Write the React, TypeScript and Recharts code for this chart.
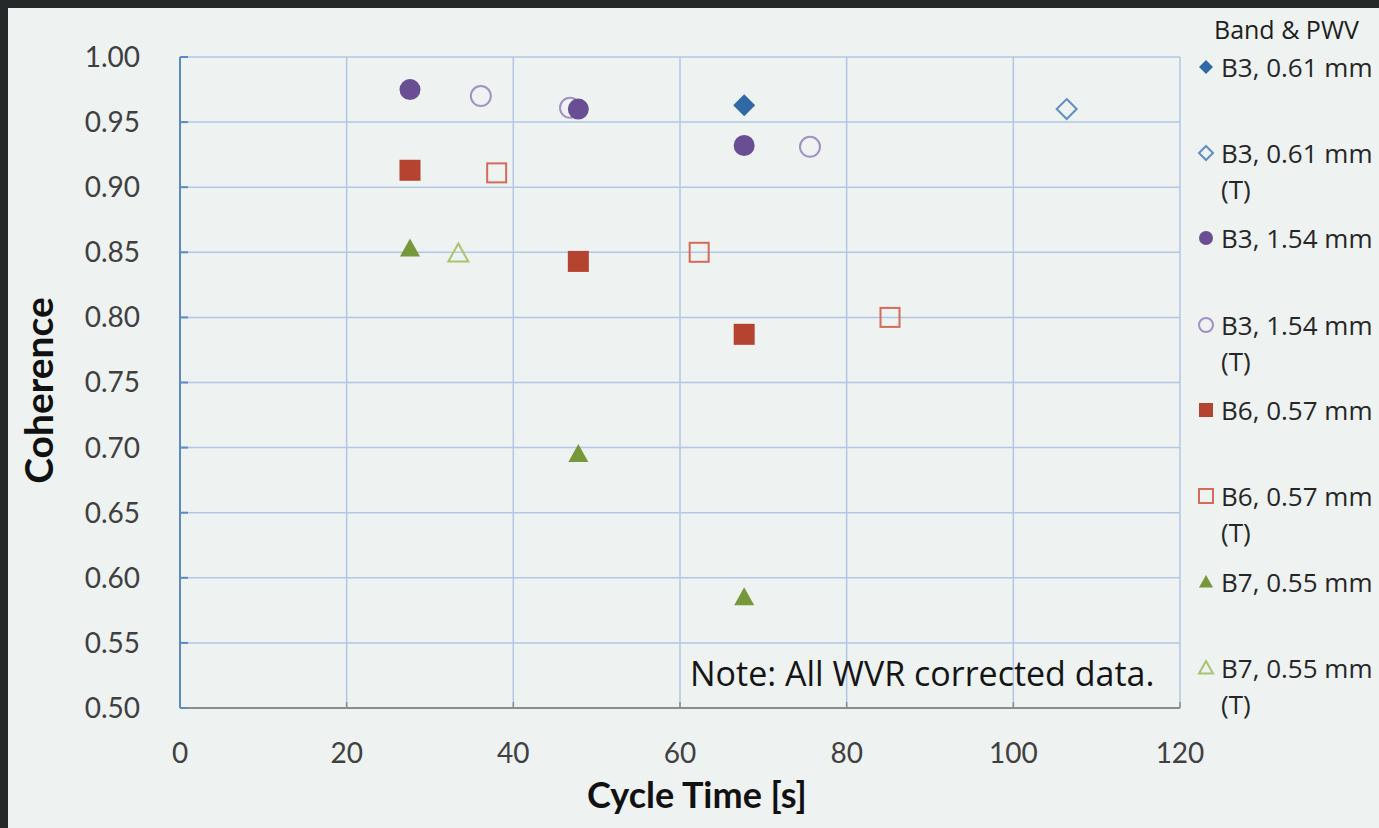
import React from "react";
import { ScatterChart, Scatter, XAxis, YAxis, CartesianGrid, Label } from "recharts";

const xTicks = [0, 20, 40, 60, 80, 100, 120];
const yTicks = [0.5, 0.55, 0.6, 0.65, 0.7, 0.75, 0.8, 0.85, 0.9, 0.95, 1.0];

// Band 3, PWV 0.61 mm
const b3LowTime = [67.7];
const b3LowCoh = [0.963];
const b3LowTTime = [106.4];
const b3LowTCoh = [0.96];
// Band 3, PWV 1.54 mm
const b3HighTime = [27.6, 47.8, 67.7];
const b3HighCoh = [0.975, 0.96, 0.932];
const b3HighTTime = [36.1, 46.8, 75.6];
const b3HighTCoh = [0.97, 0.961, 0.931];
// Band 6, PWV 0.57 mm
const b6Time = [27.6, 47.8, 67.7];
const b6Coh = [0.913, 0.843, 0.787];
const b6TTime = [38.0, 62.3, 85.2];
const b6TCoh = [0.911, 0.85, 0.8];
// Band 7, PWV 0.55 mm
const b7Time = [27.6, 47.8, 67.7];
const b7Coh = [0.853, 0.695, 0.585];
const b7TTime = [33.4];
const b7TCoh = [0.849];

type Kind = "diamond" | "circle" | "square" | "triangle";

interface Series {
  name: string;
  tracked: boolean;
  kind: Kind;
  color: string;
  filled: boolean;
  size: number;
  x: number[];
  y: number[];
}

const series: Series[] = [
  { name: "B3, 0.61 mm", tracked: false, kind: "diamond", color: "#2f6aa6", filled: true, size: 22, x: b3LowTime, y: b3LowCoh },
  { name: "B3, 0.61 mm", tracked: true, kind: "diamond", color: "#5f8fc2", filled: false, size: 22, x: b3LowTTime, y: b3LowTCoh },
  { name: "B3, 1.54 mm", tracked: false, kind: "circle", color: "#6a4e94", filled: true, size: 21, x: b3HighTime, y: b3HighCoh },
  { name: "B3, 1.54 mm", tracked: true, kind: "circle", color: "#a390c4", filled: false, size: 22, x: b3HighTTime, y: b3HighTCoh },
  { name: "B6, 0.57 mm", tracked: false, kind: "square", color: "#b4432f", filled: true, size: 21, x: b6Time, y: b6Coh },
  { name: "B6, 0.57 mm", tracked: true, kind: "square", color: "#d66a58", filled: false, size: 21, x: b6TTime, y: b6TCoh },
  { name: "B7, 0.55 mm", tracked: false, kind: "triangle", color: "#76983a", filled: true, size: 20, x: b7Time, y: b7Coh },
  { name: "B7, 0.55 mm", tracked: true, kind: "triangle", color: "#a8c46e", filled: false, size: 22, x: b7TTime, y: b7TCoh },
];

const FONT = "Lato, 'Open Sans', sans-serif";
const WIDE_FONT = "'Open Sans', Lato, sans-serif";

function Marker({ cx, cy, kind, color, filled, size }: { cx: number; cy: number; kind: Kind; color: string; filled: boolean; size: number }) {
  const sw = filled ? 0 : 2;
  const h = size / 2 - sw / 2;
  const paint = { fill: filled ? color : "none", stroke: filled ? "none" : color, strokeWidth: sw };
  if (kind === "circle") return <circle cx={cx} cy={cy} r={h} {...paint} />;
  if (kind === "square") return <rect x={cx - h} y={cy - h} width={h * 2} height={h * 2} {...paint} />;
  if (kind === "diamond")
    return <polygon points={`${cx},${cy - h} ${cx + h},${cy} ${cx},${cy + h} ${cx - h},${cy}`} {...paint} />;
  return <polygon points={`${cx},${cy - h} ${cx + h},${cy + h * 0.8} ${cx - h},${cy + h * 0.8}`} {...paint} />;
}

// draw hollow (T) series underneath the filled ones
const drawOrder = [...series.filter((s) => !s.filled), ...series.filter((s) => s.filled)];

function LegendBox() {
  const rowTops = [49, 135, 220, 307, 392, 478, 564, 650];
  return (
    <div style={{ position: "absolute", left: 1196, top: 0, fontFamily: WIDE_FONT, color: "#262626" }}>
      <div style={{ position: "absolute", left: 18, top: 12, fontSize: 25, whiteSpace: "nowrap", color: "#1e1e1e" }}>
        Band &amp; PWV
      </div>
      {series.map((s, i) => (
        <div key={i} style={{ position: "absolute", left: 0, top: rowTops[i], whiteSpace: "nowrap" }}>
          <svg width={20} height={36} style={{ position: "absolute", left: 0, top: 0 }}>
            <Marker cx={10} cy={18} kind={s.kind} color={s.color} filled={s.filled} size={s.filled ? 14 : 16} />
          </svg>
          <div style={{ position: "absolute", left: 25, top: 0, fontSize: 26, lineHeight: "36px" }}>
            {s.name}
            {s.tracked && <br />}
            {s.tracked && "(T)"}
          </div>
        </div>
      ))}
    </div>
  );
}

export default function App() {
  return (
    <div style={{ position: "absolute", left: 0, top: 0, width: 1379, height: 828, background: "#26292a", overflow: "hidden" }}>
      <div style={{ position: "absolute", left: 8, top: 8, width: 1371, height: 820, background: "#eef2f1" }} />
      <div style={{ position: "absolute", left: 0, top: 0 }}>
        <ScatterChart width={1379} height={828} margin={{ top: 57, right: 199, bottom: 60, left: 80 }}>
          <CartesianGrid stroke="#b1c7e4" strokeWidth={1.5} />
          <XAxis
            type="number"
            dataKey="x"
            domain={[0, 120]}
            ticks={xTicks}
            height={60}
            tickSize={-6}
            tickMargin={41}
            axisLine={{ stroke: "#8c8c8c", strokeWidth: 2 }}
            tickLine={{ stroke: "#8c8c8c", strokeWidth: 1.5 }}
            tick={{ fill: "#404040", fontSize: 28, fontFamily: FONT }}
          >
            <Label
              content={({ viewBox }: any) => (
                <text
                  x={viewBox.x + viewBox.width / 2 + 17}
                  y={viewBox.y + 100}
                  textAnchor="middle"
                  fill="#111"
                  fontSize={36}
                  fontWeight="bold"
                  fontFamily={FONT}
                >
                  Cycle Time [s]
                </text>
              )}
            />
          </XAxis>
          <YAxis
            type="number"
            dataKey="y"
            domain={[0.5, 1.0]}
            ticks={yTicks}
            width={100}
            tickSize={-8}
            tickMargin={48}
            tickFormatter={(v: number) => v.toFixed(2)}
            axisLine={{ stroke: "#5b8ac6", strokeWidth: 2 }}
            tickLine={{ stroke: "#5b8ac6", strokeWidth: 2 }}
            tick={{ fill: "#404040", fontSize: 28, fontFamily: FONT }}
          >
            <Label
              content={({ viewBox }: any) => {
                const x = viewBox.x - 27;
                const y = viewBox.y + viewBox.height / 2 + 8;
                return (
                  <text
                    x={x}
                    y={y}
                    transform={`rotate(-90 ${x} ${y})`}
                    textAnchor="middle"
                    fill="#111"
                    fontSize={39}
                    fontWeight="bold"
                    fontFamily={FONT}
                  >
                    Coherence
                  </text>
                );
              }}
            />
          </YAxis>
          {drawOrder.map((s, i) => (
            <Scatter
              key={i}
              name={s.name + (s.tracked ? " (T)" : "")}
              data={s.x.map((t, j) => ({ x: t, y: s.y[j] }))}
              isAnimationActive={false}
              shape={(p: any) => <Marker cx={p.cx} cy={p.cy} kind={s.kind} color={s.color} filled={s.filled} size={s.size} />}
            />
          ))}
        </ScatterChart>
      </div>
      <div
        style={{ position: "absolute", left: 690, top: 650, fontFamily: WIDE_FONT, fontSize: 34, color: "#151515", whiteSpace: "nowrap" }}
      >
        Note: All WVR corrected data.
      </div>
      <LegendBox />
    </div>
  );
}
